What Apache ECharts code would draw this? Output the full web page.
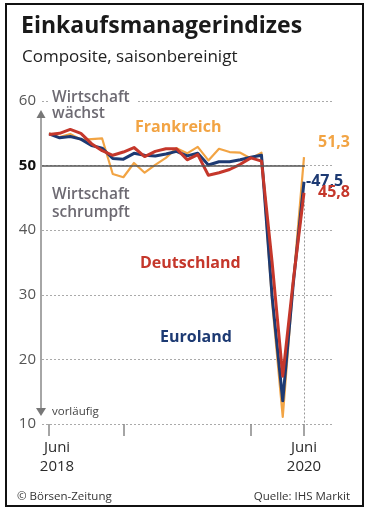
<!DOCTYPE html>
<html><head><meta charset="utf-8">
<script src="https://cdn.jsdelivr.net/npm/echarts@6/dist/echarts.min.js"></script>
<style>html,body{margin:0;padding:0;background:#fff}#c{width:367px;height:511px}</style>
</head><body><div id="c"></div>
<script>
// Monthly composite PMI, Jun 2018 .. Jun 2020 (last value preliminary)
const months = ['Jun 18','Jul 18','Aug 18','Sep 18','Okt 18','Nov 18','Dez 18',
  'Jan 19','Feb 19','Mär 19','Apr 19','Mai 19','Jun 19','Jul 19','Aug 19','Sep 19','Okt 19','Nov 19','Dez 19',
  'Jan 20','Feb 20','Mär 20','Apr 20','Mai 20','Jun 20'];
const frankreich  = [55.0,54.4,54.9,54.0,54.1,54.2,48.7,48.2,50.4,48.9,50.1,51.2,52.7,51.9,52.9,50.8,52.6,52.1,52.0,51.1,52.0,28.9,11.1,32.1,51.3];
const euroland    = [54.9,54.3,54.5,54.1,53.1,52.7,51.1,51.0,51.9,51.6,51.5,51.8,52.2,51.5,51.9,50.1,50.6,50.6,50.9,51.3,51.6,29.7,13.6,31.9,47.5];
const deutschland = [54.8,55.0,55.6,55.0,53.4,52.3,51.6,52.1,52.8,51.4,52.2,52.6,52.6,50.9,51.7,48.5,48.9,49.4,50.2,51.2,50.7,35.0,17.4,32.3,45.8];
const yTicks = [10,20,30,40,50,60];
const xTickIdx = [0,7,19,24];          // Jun 2018, Jan 2019, Jan 2020, Jun 2020
const xLabelIdx = [0,24];
const xLabels = {0:['Juni','2018'], 24:['Juni','2020']};

const F = '"Open Sans", "Noto Sans", sans-serif';
const C_FR = '#f2a444', C_EU = '#1d3a73', C_DE = '#c5372b';
const fmt = v => v.toFixed(1).replace('.', ',');
const pts = arr => arr.map((v,i) => [i, v]);

const chart = echarts.init(document.getElementById('c'), null, {renderer:'canvas'});
function lineSeries(name, arr, color, width, z, labelText, offset) {
  return {
    name, type:'line', data: pts(arr), symbol:'none', z,
    lineStyle:{color, width, join:'round'}, itemStyle:{color},
    endLabel:{show:true, formatter: p => labelText(p.value[1]), offset, distance:5,
      color, fontWeight:'bold', fontSize:16, fontFamily:F}
  };
}
const option = {
  animation:false,
  grid:{left:42, right:34, top:101, bottom:87},
  xAxis:{type:'value', min:-0.66, max:26.73,
    axisLine:{show:false}, splitLine:{show:false},
    axisTick:{show:true, customValues:xTickIdx, length:12, lineStyle:{color:'#888', width:1.5}},
    axisLabel:{customValues:xLabelIdx, margin:14,
      formatter: v => { const l = xLabels[Math.round(v)] || ['','']; const k = v < 1 ? 'a' : 'b'; return '{'+k+'|'+l[0]+'}\n{'+k+'|'+l[1]+'}'; },
      rich:{a:{fontSize:15, fontWeight:500, color:'#2a2a2a', fontFamily:F, lineHeight:19, padding:[0,0,0,16]},
            b:{fontSize:15, fontWeight:500, color:'#2a2a2a', fontFamily:F, lineHeight:19}}}},
  yAxis:{type:'value', min:yTicks[0], max:yTicks[yTicks.length-1], interval:10,
    axisLine:{show:false}, axisTick:{show:false},
    splitLine:{lineStyle:{color:'#aaa', type:[2,2], width:1}},
    axisLabel:{margin:6, formatter: v => v===50 ? '{b|50}' : '{n|'+v+'}',
      rich:{b:{fontWeight:'bold', color:'#111', fontSize:15, fontFamily:F},
            n:{color:'#555', fontSize:15, fontFamily:F}}}},
  series:[
    {type:'line', data:[], z:1, silent:true,
      markLine:{silent:true, symbol:'none', label:{show:false},
        data:[
          [{coord:[-0.66,50], lineStyle:{color:'#555', width:1.5, type:'solid'}}, {coord:[24.1,50]}],
          [{coord:[24,44.6], lineStyle:{color:'#999', width:1, type:[2,2]}}, {coord:[24,10]}]
        ]}},
    lineSeries('Frankreich', frankreich, C_FR, 2.2, 2, fmt, [9,-15]),
    lineSeries('Euroland', euroland, C_EU, 3, 3, v => '-' + fmt(v), [-3,0]),
    lineSeries('Deutschland', deutschland, C_DE, 3, 4, fmt, [9,0])
  ],
  graphic:[
    {type:'rect', shape:{x:6, y:4, width:357, height:502}, style:{fill:'none', stroke:'#111', lineWidth:2}, z:200},
    {type:'text', x:21, y:26, style:{text:'Einkaufsmanagerindizes', font:'bold 23px '+F, fill:'#1a1a1a', textVerticalAlign:'middle'}, z:200},
    {type:'text', x:22, y:57, style:{text:'Composite, saisonbereinigt', font:'17px '+F, fill:'#222', textVerticalAlign:'middle'}, z:200},
    {type:'rect', shape:{x:48, y:89, width:90, height:32}, style:{fill:'#fff'}, z:100},
    {type:'text', x:52, y:98, style:{text:'Wirtschaft', font:'600 15.5px '+F, fill:'#6d6a72', textVerticalAlign:'middle'}, z:200},
    {type:'text', x:52, y:114, style:{text:'wächst', font:'600 15.5px '+F, fill:'#6d6a72', textVerticalAlign:'middle'}, z:200},
    {type:'text', x:52, y:195, style:{text:'Wirtschaft', font:'600 15.5px '+F, fill:'#6d6a72', textVerticalAlign:'middle'}, z:200},
    {type:'text', x:52, y:213, style:{text:'schrumpft', font:'600 15.5px '+F, fill:'#6d6a72', textVerticalAlign:'middle'}, z:200},
    {type:'line', shape:{x1:41, y1:117, x2:41, y2:409}, style:{stroke:'#888', lineWidth:1.5}, z:150},
    {type:'polygon', shape:{points:[[41,110],[36.5,118],[45.5,118]]}, style:{fill:'#777'}, z:150},
    {type:'polygon', shape:{points:[[41,416],[36,408],[46,408]]}, style:{fill:'#777'}, z:150},
    {type:'text', x:52, y:412, style:{text:'vorläufig', font:'11.5px '+F, fill:'#444', textVerticalAlign:'middle'}, z:200},
    {type:'text', x:135, y:127, style:{text:'Frankreich', font:'bold 16px '+F, fill:C_FR, textVerticalAlign:'middle'}, z:200},
    {type:'text', x:140, y:263, style:{text:'Deutschland', font:'bold 16px '+F, fill:C_DE, textVerticalAlign:'middle'}, z:200},
    {type:'text', x:160, y:337, style:{text:'Euroland', font:'bold 16px '+F, fill:C_EU, textVerticalAlign:'middle'}, z:200},
    {type:'text', x:17, y:497, style:{text:'© Börsen-Zeitung', font:'11.5px '+F, fill:'#333', textVerticalAlign:'middle'}, z:200},
    {type:'text', x:350, y:497, style:{text:'Quelle: IHS Markit', font:'11.5px '+F, fill:'#333', textAlign:'right', textVerticalAlign:'middle'}, z:200}
  ]
};
chart.setOption(option);
</script></body></html>
